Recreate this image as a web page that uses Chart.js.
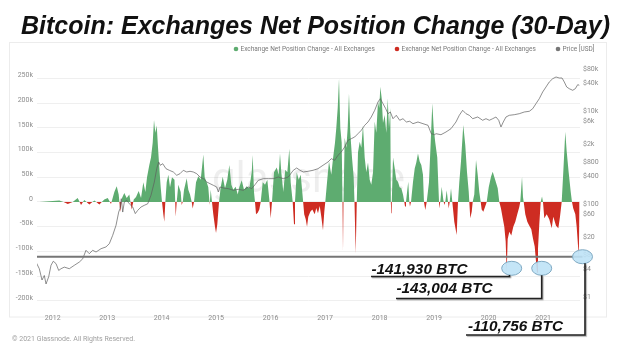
<!DOCTYPE html>
<html><head><meta charset="utf-8">
<script src="https://cdn.jsdelivr.net/npm/chart.js@4.4.1/dist/chart.umd.min.js"></script>
<style>html,body{margin:0;padding:0;background:#fff}#wrap{position:relative;width:619px;height:346px}</style>
</head><body><div id="wrap"><canvas id="c"></canvas></div>
<script>
// ---------- data ----------
const titleText = 'Bitcoin: Exchanges Net Position Change (30-Day)';
const seriesNames = ['Exchange Net Position Change - All Exchanges', 'Exchange Net Position Change - All Exchanges', 'Price [USD]'];
const footerText = '\u00A9 2021 Glassnode. All Rights Reserved.';
const watermarkText = 'glassnode';

const yearTicks = [2012, 2013, 2014, 2015, 2016, 2017, 2018, 2019, 2020, 2021];
const yearLabels = ['2012', '2013', '2014', '2015', '2016', '2017', '2018', '2019', '2020', '2021'];
const leftTicks = [-200000, -150000, -100000, -50000, 0, 50000, 100000, 150000, 200000, 250000];
const leftTickLabels = ['-200k', '-150k', '-100k', '-50k', '0', '50k', '100k', '150k', '200k', '250k'];
const priceTicks = [1, 4, 8, 20, 60, 100, 400, 800, 2000, 6000, 10000, 40000, 80000];
const priceTickLabels = ['$1', '$4', '$8', '$20', '$60', '$100', '$400', '$800', '$2k', '$6k', '$10k', '$40k', '$80k'];

const calloutLabels = ['-141,930 BTC', '-143,004 BTC', '-110,756 BTC'];
const calloutValues = [-141930, -143004, -110756];

// net position change (BTC), dates as decimal years
const flowYears = [
2011.754,2011.938,2012.122,2012.200,2012.276,2012.367,2012.459,2012.520,2012.580,2012.672,
2012.764,2012.856,2012.947,2013.010,2013.070,2013.131,2013.175,2013.211,2013.241,2013.272,
2013.314,2013.358,2013.406,2013.450,2013.487,2013.529,2013.578,2013.621,2013.663,2013.700,
2013.731,2013.773,2013.804,2013.835,2013.859,2013.883,2013.909,2013.933,2013.956,2013.982,
2014.006,2014.030,2014.048,2014.067,2014.092,2014.122,2014.153,2014.189,2014.235,2014.257,
2014.276,2014.305,2014.349,2014.367,2014.386,2014.410,2014.459,2014.489,2014.520,2014.551,
2014.569,2014.593,2014.630,2014.672,2014.716,2014.764,2014.789,2014.826,2014.855,2014.881,
2014.900,2014.923,2014.947,2014.978,2014.997,2015.021,2015.052,2015.083,2015.120,2015.162,
2015.204,2015.241,2015.278,2015.314,2015.358,2015.395,2015.424,2015.468,2015.511,2015.560,
2015.608,2015.652,2015.670,2015.694,2015.712,2015.731,2015.762,2015.791,2015.817,2015.854,
2015.896,2015.938,2015.975,2016.000,2016.024,2016.061,2016.111,2016.147,2016.171,2016.195,
2016.232,2016.268,2016.305,2016.342,2016.367,2016.404,2016.428,2016.446,2016.478,2016.514,
2016.551,2016.588,2016.615,2016.643,2016.667,2016.690,2016.727,2016.764,2016.808,2016.837,
2016.868,2016.900,2016.929,2016.960,2016.984,2017.002,2017.034,2017.070,2017.112,2017.144,
2017.180,2017.204,2017.230,2017.254,2017.278,2017.303,2017.318,2017.327,2017.336,2017.358,
2017.388,2017.413,2017.437,2017.461,2017.492,2017.523,2017.538,2017.560,2017.580,2017.602,
2017.634,2017.663,2017.694,2017.725,2017.755,2017.786,2017.817,2017.846,2017.878,2017.909,
2017.938,2017.969,2017.993,2018.012,2018.037,2018.061,2018.092,2018.122,2018.147,2018.171,
2018.195,2018.205,2018.213,2018.222,2018.245,2018.276,2018.305,2018.336,2018.367,2018.397,
2018.428,2018.452,2018.465,2018.483,2018.507,2018.525,2018.544,2018.556,2018.575,2018.611,
2018.643,2018.672,2018.703,2018.734,2018.764,2018.795,2018.813,2018.837,2018.863,2018.905,
2018.936,2018.966,2018.991,2019.021,2019.057,2019.079,2019.094,2019.112,2019.138,2019.167,
2019.186,2019.204,2019.230,2019.254,2019.267,2019.285,2019.309,2019.333,2019.369,2019.413,
2019.437,2019.461,2019.492,2019.534,2019.571,2019.602,2019.634,2019.645,2019.663,2019.689,
2019.707,2019.736,2019.768,2019.799,2019.828,2019.854,2019.872,2019.902,2019.933,2019.964,
2020.001,2020.043,2020.074,2020.122,2020.166,2020.195,2020.226,2020.258,2020.287,2020.312,
2020.331,2020.349,2020.379,2020.415,2020.452,2020.489,2020.525,2020.562,2020.580,2020.599,
2020.612,2020.630,2020.643,2020.672,2020.709,2020.746,2020.782,2020.813,2020.845,2020.868,
2020.887,2020.905,2020.929,2020.955,2020.979,2020.997,2021.021,2021.065,2021.112,2021.157,
2021.186,2021.236,2021.278,2021.309,2021.340,2021.369,2021.406,2021.432,2021.468,2021.505,
2021.529,2021.553,2021.590,2021.615,2021.634,2021.652,2021.670
];
const flowValues = [
0,1500,3000,0,-4000,0,8000,-6000,4000,-5000,
3000,-5000,5000,8000,-4000,20000,32000,15000,-20000,8000,
18000,8000,15000,-15000,5000,10000,22000,8000,40000,20000,
50000,75000,90000,120000,166000,140000,155000,110000,70000,30000,
0,-25000,-40000,0,40000,55000,30000,50000,45000,-30000,
0,35000,20000,-6000,0,25000,48000,25000,15000,0,
-13000,0,40000,52000,45000,96000,50000,40000,30000,-6000,
25000,0,-25000,-50000,-63000,-45000,0,30000,51000,28000,
45000,75000,35000,25000,31000,15000,30000,44000,25000,32000,
28000,60000,95000,20000,0,-25000,-22000,-15000,0,40000,
35000,45000,5000,-33000,0,60000,70000,55000,98000,60000,
20000,65000,60000,108000,40000,0,-45000,0,60000,45000,
55000,10000,-25000,-35000,-50000,-30000,-20000,-15000,-25000,-12000,
-23000,-8000,-30000,-57000,-20000,0,40000,82000,55000,88000,
120000,150000,190000,250000,150000,120000,0,-100000,0,130000,
110000,150000,220000,140000,90000,50000,0,-104000,0,100000,
122000,110000,155000,90000,60000,80000,45000,35000,60000,163000,
140000,203000,190000,233000,210000,160000,176000,140000,210000,150000,
190000,0,-23000,0,90000,68000,45000,41000,30000,28000,
15000,0,-9000,0,25000,41000,0,-9000,0,40000,
68000,80000,98000,82000,75000,55000,0,-16000,0,40000,
120000,200000,150000,120000,90000,28000,-13000,0,31000,5000,
-6000,0,24000,0,-13000,0,28000,0,-40000,-67000,
0,40000,82000,156000,115000,61000,21000,0,-33000,-20000,
0,15000,85000,55000,20000,0,-15000,-20000,-10000,0,
30000,51000,61000,44000,28000,0,-13000,-33000,-50000,-80000,
-141930,-75000,-60000,-68000,-50000,-40000,-25000,-10000,0,30000,
51000,10000,0,-25000,-40000,-48000,-55000,-74000,-90000,-120000,
-143004,-95000,-45000,0,11000,0,-33000,-25000,-35000,-53000,
-30000,-48000,-53000,-30000,0,60000,142000,102000,60000,21000,
0,-13000,-25000,-50000,-80000,-110756,-20000
];

// BTC price (USD), dates as decimal years
const priceYears = [
2011.694,2011.754,2011.804,2011.846,2011.878,2011.927,2011.969,2012.011,2012.061,2012.110,
2012.153,2012.213,2012.305,2012.397,2012.488,2012.551,2012.611,2012.672,2012.734,2012.795,
2012.887,2012.978,2013.039,2013.101,2013.162,2013.211,2013.235,2013.259,2013.285,2013.314,
2013.358,2013.406,2013.468,2013.516,2013.560,2013.621,2013.681,2013.744,2013.804,2013.865,
2013.909,2013.945,2013.975,2014.019,2014.079,2014.140,2014.213,2014.276,2014.336,2014.397,
2014.459,2014.520,2014.580,2014.643,2014.703,2014.764,2014.826,2014.887,2014.947,2015.010,
2015.039,2015.070,2015.131,2015.222,2015.314,2015.406,2015.498,2015.589,2015.652,2015.712,
2015.773,2015.865,2015.956,2016.048,2016.140,2016.232,2016.323,2016.415,2016.478,2016.538,
2016.599,2016.685,2016.777,2016.868,2016.960,2017.052,2017.112,2017.175,2017.235,2017.296,
2017.358,2017.419,2017.479,2017.542,2017.602,2017.663,2017.725,2017.786,2017.846,2017.909,
2017.969,2018.012,2018.061,2018.111,2018.153,2018.195,2018.245,2018.305,2018.367,2018.428,
2018.489,2018.551,2018.611,2018.703,2018.795,2018.887,2018.947,2019.010,2019.033,2019.125,
2019.217,2019.309,2019.400,2019.461,2019.523,2019.584,2019.645,2019.707,2019.799,2019.890,
2019.951,2020.012,2020.074,2020.134,2020.184,2020.226,2020.268,2020.318,2020.379,2020.470,
2020.562,2020.654,2020.746,2020.808,2020.868,2020.929,2020.991,2021.052,2021.112,2021.175,
2021.236,2021.296,2021.346,2021.388,2021.432,2021.479,2021.542,2021.590,2021.634,2021.663
];
const priceValues = [
6.8,4.9,2.8,3.5,2.3,3.3,5.8,7.1,6.3,4.5,
4.9,5.3,4.9,5.8,6.8,8.0,12.2,10.3,12.2,11.2,
13.2,14.4,16.9,25.6,42,81,96,157,81,133,
145,122,104,75,88,104,113,122,186,359,
693,966,820,888,693,640,589,500,541,640,
589,609,589,541,459,423,359,330,305,280,
219,280,267,258,238,250,238,280,258,314,
390,423,423,423,459,423,459,640,718,640,
589,609,640,693,820,966,1138,1051,1346,1585,
2031,2830,3062,3334,3923,4642,5943,7000,8970,12500,
18840,22200,17330,13520,10560,11490,8240,9750,7620,8240,
7000,7250,6440,7000,6440,5943,3923,3733,3923,3733,
4266,5024,7000,9750,12500,10560,9750,8240,8970,7620,
8240,7620,8240,8970,7620,5470,7000,8970,9750,10050,
10560,11490,11890,13520,17330,22200,30900,39600,50700,59700,
65000,61800,61800,50700,39600,36400,33650,36400,44400,43100
];

// ---------- styles / layout ----------
const GREEN = 'rgb(94,172,112)';
const RED = 'rgb(206,44,34)';
const PRICE_COLOR = '#5e5e5e';
const TICK_COLOR = '#8c8c8c';
const SMALL_FONT = 'Roboto, "Noto Sans", sans-serif';

const overlay = {
  id: 'overlay',
  beforeDraw(chart) {
    const ctx = chart.ctx;
    ctx.save();
    ctx.fillStyle = '#fff';
    ctx.fillRect(0, 0, chart.width, chart.height);
    ctx.strokeStyle = '#ececec';
    ctx.lineWidth = 1;
    ctx.strokeRect(9.5, 42.5, 597, 274.5);
    ctx.restore();
  },
  beforeDatasetsDraw(chart) {
    const ctx = chart.ctx;
    ctx.save();
    ctx.font = '400 42px Roboto, sans-serif';
    ctx.fillStyle = 'rgba(0,0,0,0.065)';
    ctx.textBaseline = 'alphabetic';
    ctx.fillText(watermarkText, 212, 192);
    ctx.restore();
  },
  afterDraw(chart) {
    const ctx = chart.ctx;
    const y = chart.scales.y;
    ctx.save();
    // title
    ctx.fillStyle = '#111';
    ctx.font = 'italic bold 25px "Liberation Sans", Arial, sans-serif';
    ctx.textBaseline = 'alphabetic';
    ctx.fillText(titleText, 21, 34);
    // legend
    const legendColors = [GREEN, RED, '#777'];
    const legendX = [236, 397, 558];
    ctx.font = '6.5px ' + SMALL_FONT;
    ctx.textBaseline = 'middle';
    seriesNames.forEach((n, i) => {
      ctx.fillStyle = legendColors[i];
      ctx.beginPath(); ctx.arc(legendX[i], 49, 2.3, 0, Math.PI * 2); ctx.fill();
      ctx.fillStyle = '#7a7a7a';
      ctx.fillText(n, legendX[i] + 4.5, 49.5);
    });
    // footer
    ctx.fillStyle = '#a0a0a0';
    ctx.font = '7px ' + SMALL_FONT;
    ctx.fillText(footerText, 12, 339);

    // level line at the last callout value
    const levelY = y.getPixelForValue(calloutValues[2]);
    const ell = [[511.7, 268.3], [541.7, 268.3], [582.5, levelY]];
    ctx.strokeStyle = '#767676';
    ctx.lineWidth = 2;
    ctx.beginPath(); ctx.moveTo(chart.chartArea.left, levelY); ctx.lineTo(ell[2][0], levelY); ctx.stroke();

    // ellipses
    ell.forEach(([cx, cy]) => {
      ctx.beginPath();
      ctx.ellipse(cx, cy, 10, 7, 0, 0, Math.PI * 2);
      ctx.fillStyle = 'rgba(190,226,246,0.9)';
      ctx.fill();
      ctx.strokeStyle = '#7fa9c2';
      ctx.lineWidth = 1;
      ctx.stroke();
    });

    // leader lines
    ctx.strokeStyle = '#222';
    ctx.lineWidth = 1.6;
    ctx.shadowColor = 'rgba(0,0,0,0.35)';
    ctx.shadowOffsetX = 1; ctx.shadowOffsetY = 1; ctx.shadowBlur = 1;
    const leaders = [
      [[371, 276.5], [509.5, 276.5], [509.5, 275]],
      [[396, 298.5], [541.7, 298.5], [541.7, 275.3]],
      [[466, 335], [585, 335], [585, levelY + 6.5]]
    ];
    leaders.forEach(pts => {
      ctx.beginPath();
      pts.forEach((p, i) => i ? ctx.lineTo(p[0], p[1]) : ctx.moveTo(p[0], p[1]));
      ctx.stroke();
    });
    ctx.shadowColor = 'transparent';

    // callout texts
    const textPos = [[371.5, 274], [396.5, 293], [468, 331]];
    ctx.fillStyle = '#111';
    ctx.font = 'italic bold 15.3px "Liberation Sans", Arial, sans-serif';
    ctx.textBaseline = 'alphabetic';
    calloutLabels.forEach((t, i) => ctx.fillText(t, textPos[i][0], textPos[i][1]));
    ctx.restore();
  }
};

Chart.defaults.font.family = SMALL_FONT;

new Chart(document.getElementById('c'), {
  type: 'line',
  data: {
    datasets: [
      {
        label: seriesNames[2],
        data: priceYears.map((t, i) => ({ x: t, y: priceValues[i] })),
        yAxisID: 'y1',
        borderColor: PRICE_COLOR,
        borderWidth: 0.7,
        pointRadius: 0,
        fill: false,
        tension: 0,
        order: 0
      },
      {
        label: seriesNames[0],
        data: flowYears.map((t, i) => ({ x: t, y: flowValues[i] })),
        yAxisID: 'y',
        borderColor: 'rgba(0,0,0,0)',
        borderWidth: 0,
        pointRadius: 0,
        tension: 0,
        fill: { target: 'origin', above: GREEN, below: RED },
        order: 1
      }
    ]
  },
  options: {
    responsive: true,
    maintainAspectRatio: false,
    animation: false,
    devicePixelRatio: 1,
    layout: { padding: { top: 66, left: 0, right: 0, bottom: 0 } },
    plugins: { legend: { display: false }, title: { display: false }, tooltip: { enabled: false } },
    scales: {
      x: {
        type: 'linear',
        min: 2011.712,
        max: 2021.676,
        position: 'bottom',
        grid: { display: false },
        border: { display: false },
        afterBuildTicks: s => { s.ticks = yearTicks.map(v => ({ value: v })); },
        ticks: {
          autoSkip: false, maxRotation: 0, padding: 5,
          color: TICK_COLOR, font: { size: 7 },
          callback: (v, i) => yearLabels[i]
        },
        afterFit: s => { s.height = 45.2; }
      },
      y: {
        type: 'linear',
        position: 'left',
        min: -200000,
        max: 275235,
        afterBuildTicks: s => { s.ticks = leftTicks.map(v => ({ value: v })); },
        ticks: {
          padding: 4, labelOffset: -3, color: TICK_COLOR, font: { size: 7 },
          callback: (v, i) => leftTickLabels[i]
        },
        grid: { color: '#efefef', drawTicks: false, lineWidth: 1 },
        border: { display: false },
        afterFit: s => { s.width = 37; }
      },
      y1: {
        type: 'logarithmic',
        position: 'right',
        min: 1,
        max: 112000,
        afterBuildTicks: s => { s.ticks = priceTicks.map(v => ({ value: v })); },
        ticks: {
          padding: 3, labelOffset: -3.5, color: TICK_COLOR, font: { size: 7 },
          callback: (v, i) => priceTickLabels[i]
        },
        grid: { display: false, drawTicks: false },
        border: { display: false },
        afterFit: s => { s.width = 39; }
      }
    }
  },
  plugins: [overlay]
});
</script></body></html>
